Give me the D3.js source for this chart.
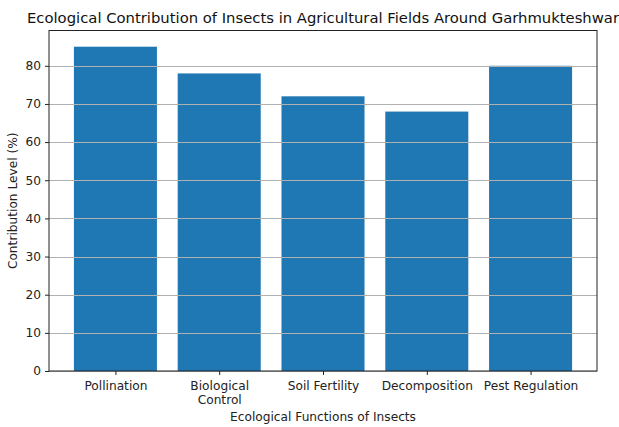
<!DOCTYPE html>
<html>
<head>
<meta charset="utf-8">
<script src="https://cdn.jsdelivr.net/npm/d3@7"></script>
<style>
  body { margin: 0; background: #fff; }
  svg { display: block; font-family: "DejaVu Sans", sans-serif; }
</style>
</head>
<body>
<svg width="619" height="427"></svg>
<script>
'use strict';

// chart data
const categories = ["Pollination", "Biological\nControl", "Soil Fertility", "Decomposition", "Pest Regulation"];
const values = [85, 78, 72, 68, 80];
const yTicks = [0, 10, 20, 30, 40, 50, 60, 70, 80];

let svg = d3.select("svg"),
    marge = {top: 30.5, left: 49, right: 597, bottom: 371};

// matplotlib-style x limits around bars of width 0.8
let x = d3.scaleLinear()
    .domain([-0.64, categories.length - 1 + 0.64])
    .range([marge.left, marge.right]);
let y = d3.scaleLinear()
    .domain([0, d3.max(values) * 1.05])
    .range([marge.bottom, marge.top]);

// bars
svg.append("g")
    .selectAll("rect")
    .data(values)
    .enter()
    .append("rect")
    .attr("x", function(d, i) { return x(i - 0.4); })
    .attr("width", function(d, i) { return x(i + 0.4) - x(i - 0.4); })
    .attr("y", function(d) { return y(d); })
    .attr("height", function(d) { return y(0) - y(d); })
    .attr("fill", "#1f77b4");

// horizontal grid on top of bars
svg.append("g")
    .selectAll("line")
    .data(yTicks)
    .enter()
    .append("line")
    .attr("x1", marge.left)
    .attr("x2", marge.right)
    .attr("y1", function(d) { return Math.round(y(d)) + 0.5; })
    .attr("y2", function(d) { return Math.round(y(d)) + 0.5; })
    .attr("stroke", "#b0b0b0")
    .attr("stroke-width", 1);

// y axis
let yAxis = svg.append("g")
    .attr("transform", "translate(" + marge.left + ",0)")
    .call(d3.axisLeft(y).tickValues(yTicks).tickSize(4).tickPadding(4).tickSizeOuter(0));
yAxis.select(".domain").remove();
yAxis.selectAll("text").attr("font-size", 12.2).attr("fill", "#222").attr("font-family", "DejaVu Sans");
yAxis.selectAll("line").attr("stroke", "#222");

// x axis
let xAxis = svg.append("g")
    .attr("transform", "translate(0," + marge.bottom + ")")
    .call(d3.axisBottom(x).tickValues(d3.range(categories.length)).tickSize(4).tickPadding(4).tickFormat(""));
xAxis.select(".domain").remove();
xAxis.selectAll("line").attr("stroke", "#222");
xAxis.selectAll(".tick")
    .append("text")
    .attr("fill", "#222")
    .attr("font-size", 12.2)
    .attr("text-anchor", "middle")
    .attr("font-family", "DejaVu Sans")
    .selectAll("tspan")
    .data(function(d) { return categories[d].split("\n"); })
    .enter()
    .append("tspan")
    .attr("x", 0)
    .attr("y", function(d, i) { return 18.5 + i * 14.5; })
    .text(function(d) { return d; });

// frame
svg.append("rect")
    .attr("x", marge.left)
    .attr("y", marge.top)
    .attr("width", marge.right - marge.left)
    .attr("height", marge.bottom - marge.top)
    .attr("fill", "none")
    .attr("stroke", "#222")
    .attr("stroke-width", 1);

// titles
svg.append("text")
    .attr("x", (marge.left + marge.right) / 2)
    .attr("y", 23)
    .attr("text-anchor", "middle")
    .attr("font-size", 14.8)
    .attr("fill", "#111")
    .text("Ecological Contribution of Insects in Agricultural Fields Around Garhmukteshwar");

svg.append("text")
    .attr("x", (marge.left + marge.right) / 2)
    .attr("y", 421)
    .attr("text-anchor", "middle")
    .attr("font-size", 12.2)
    .attr("fill", "#222")
    .text("Ecological Functions of Insects");

svg.append("text")
    .attr("transform", "translate(17," + (marge.top + marge.bottom) / 2 + ") rotate(-90)")
    .attr("text-anchor", "middle")
    .attr("font-size", 12.2)
    .attr("fill", "#222")
    .text("Contribution Level (%)");
</script>
</body>
</html>
